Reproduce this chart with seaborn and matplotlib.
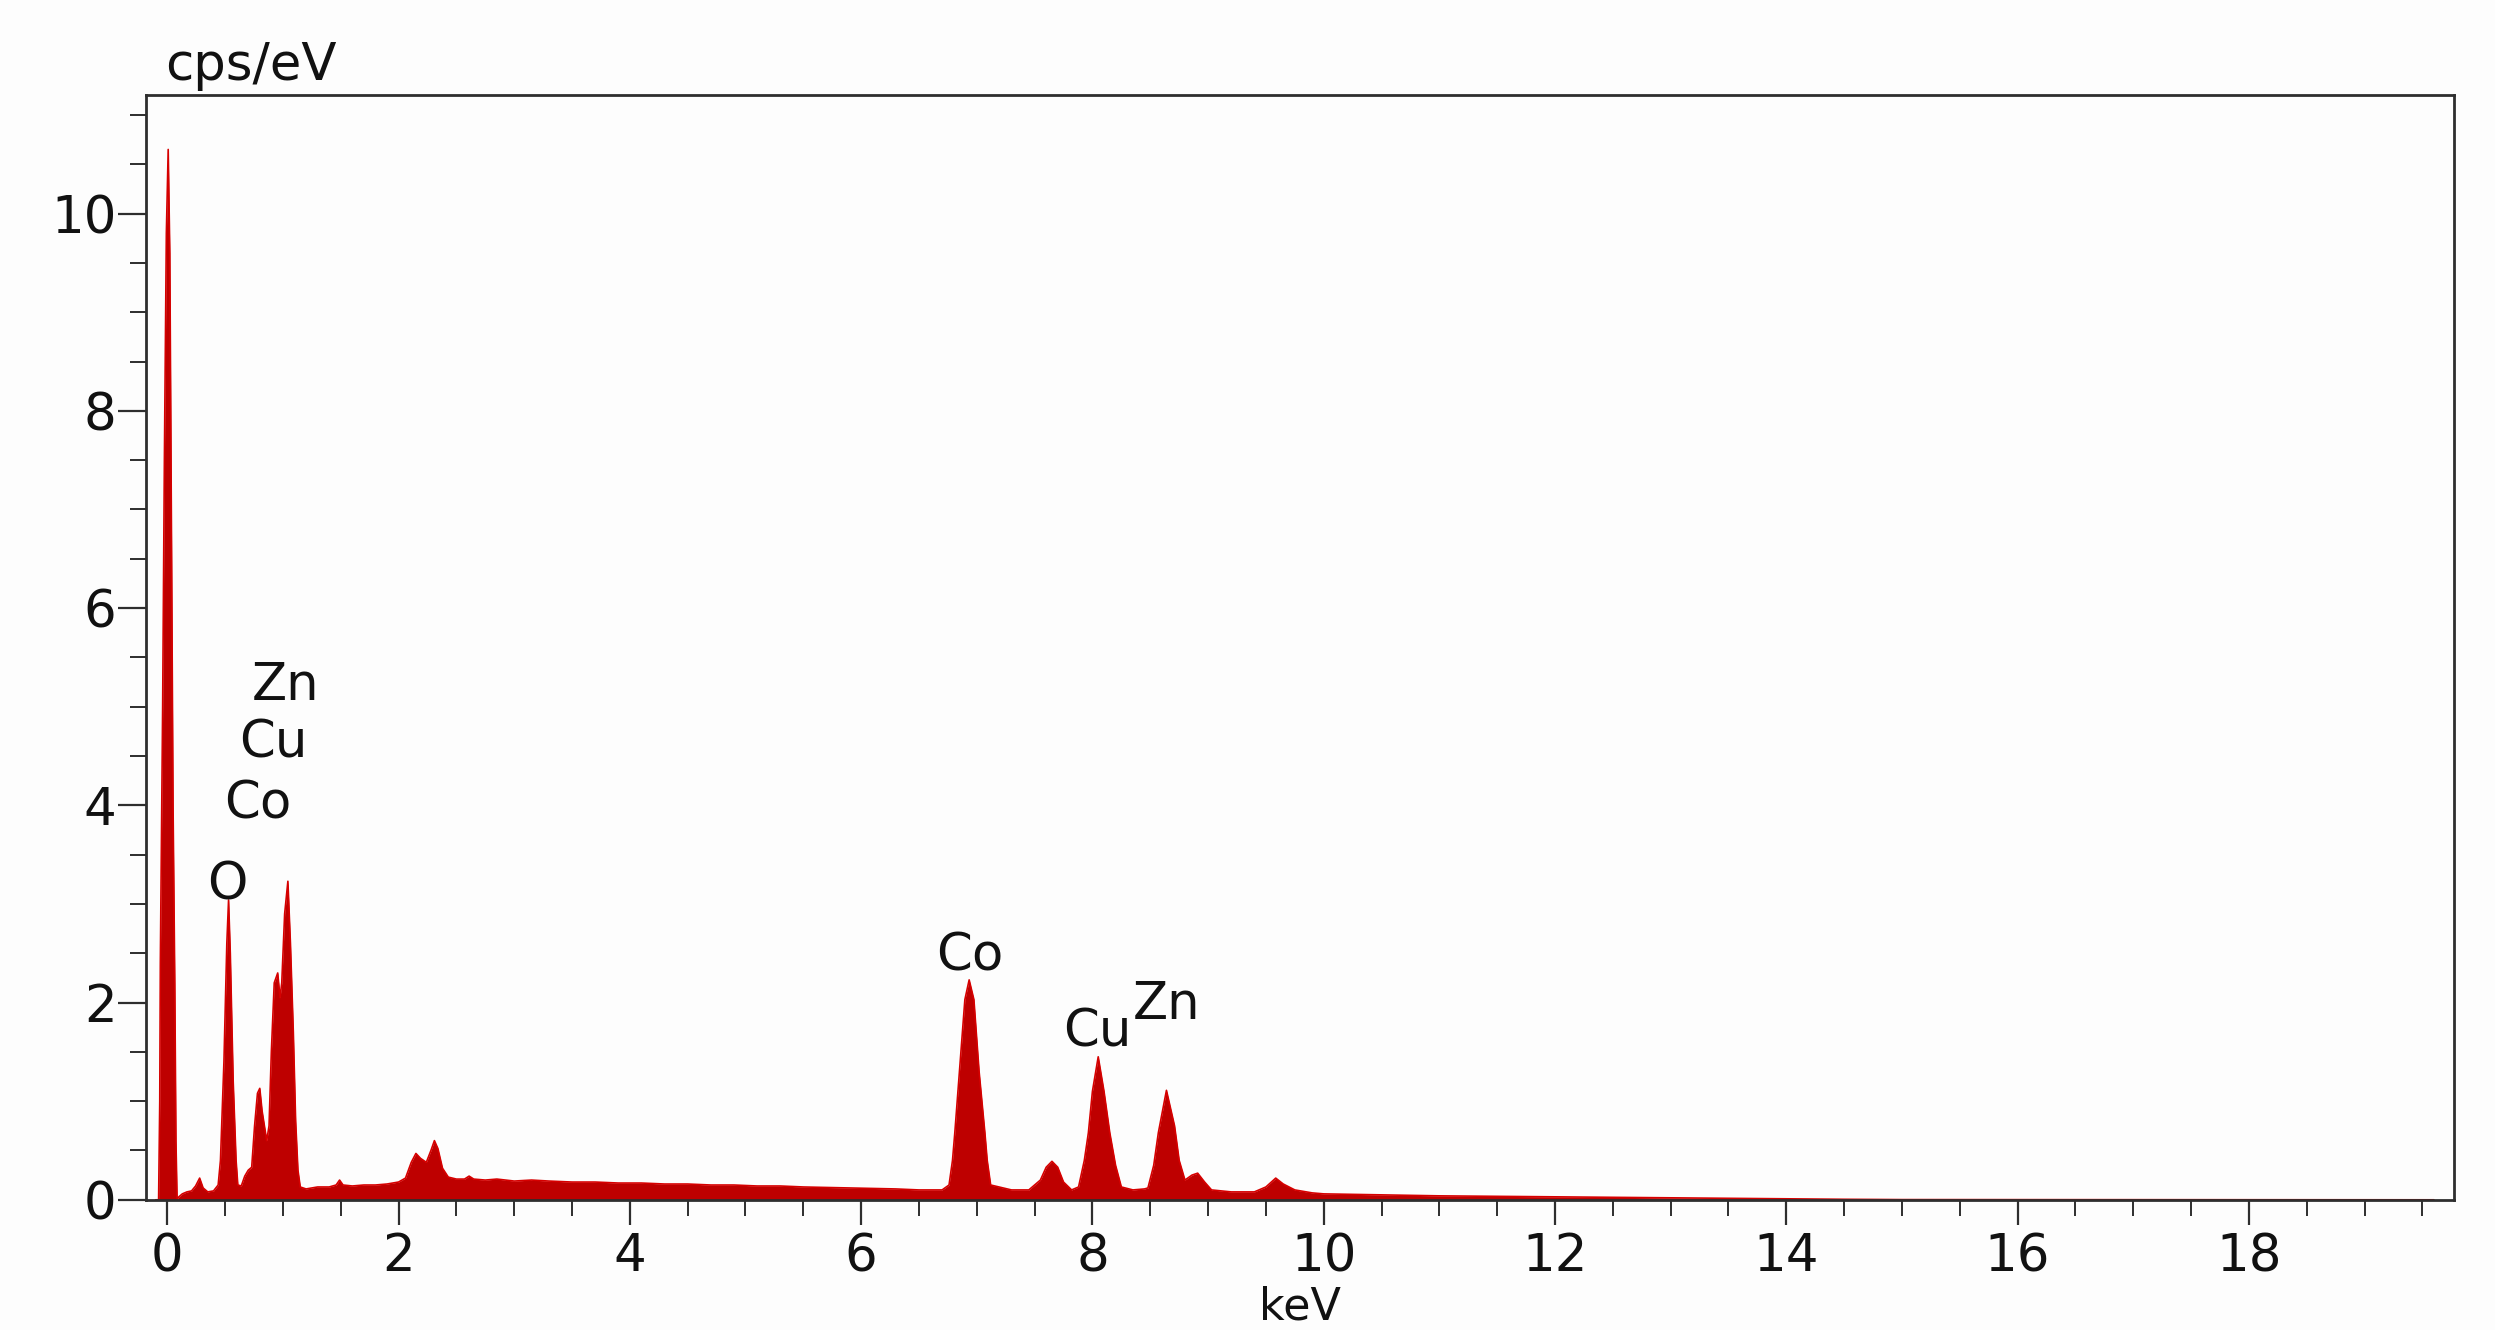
import matplotlib
matplotlib.use("Agg")
import matplotlib.pyplot as plt
import matplotlib.transforms as mtransforms
from matplotlib.ticker import MultipleLocator
import numpy as np
import pandas as pd
import seaborn as sns

# ---------------- data ----------------
energy_kev = [
    -0.10, -0.075, -0.065, -0.06, -0.04, -0.025, -0.008, 0.008, 0.022, 0.038,
    0.05, 0.065, 0.075, 0.085, 0.10, 0.13, 0.17, 0.21, 0.245, 0.28,
    0.31, 0.35, 0.40, 0.44, 0.46, 0.49, 0.515, 0.53, 0.545, 0.57,
    0.595, 0.61, 0.64, 0.67, 0.70, 0.73, 0.755, 0.78, 0.80, 0.82,
    0.86, 0.88, 0.90, 0.925, 0.955, 0.975, 0.99, 1.015, 1.043, 1.065,
    1.09, 1.11, 1.13, 1.15, 1.20, 1.30, 1.40, 1.46, 1.49, 1.52,
    1.60, 1.70, 1.80, 1.90, 2.00, 2.06, 2.11, 2.15, 2.19, 2.24,
    2.28, 2.31, 2.34, 2.38, 2.43, 2.50, 2.57, 2.61, 2.65, 2.75,
    2.85, 3.00, 3.15, 3.30, 3.50, 3.70, 3.90, 4.10, 4.30, 4.50,
    4.70, 4.90, 5.10, 5.30, 5.50, 5.70, 5.90, 6.10, 6.30, 6.50,
    6.70, 6.76, 6.79, 6.81, 6.85, 6.897, 6.934, 6.975, 7.02, 7.07,
    7.09, 7.12, 7.30, 7.45, 7.55, 7.60, 7.65, 7.70, 7.75, 7.82,
    7.88, 7.93, 7.965, 8.00, 8.05, 8.10, 8.15, 8.20, 8.25, 8.35,
    8.45, 8.48, 8.53, 8.57, 8.64, 8.71, 8.75, 8.80, 8.86, 8.91,
    8.97, 9.03, 9.20, 9.40, 9.50, 9.585, 9.65, 9.75, 9.90, 10.0,
    10.5, 11.0, 11.5, 12.0, 12.5, 13.0, 13.5, 14.0, 14.5, 15.0,
    19.6,
]
counts_cps_per_ev = [
    0.0, 0.0, 1.0, 2.4, 5.0, 7.5, 9.8, 10.65, 9.6, 6.5,
    4.0, 2.2, 0.6, 0.0, 0.03, 0.06, 0.08, 0.09, 0.14, 0.22,
    0.12, 0.08, 0.09, 0.15, 0.40, 1.40, 2.60, 3.04, 2.50, 1.20,
    0.40, 0.15, 0.14, 0.24, 0.30, 0.33, 0.75, 1.08, 1.13, 0.90,
    0.60, 0.75, 1.50, 2.20, 2.30, 2.05, 2.20, 2.90, 3.23, 2.60,
    1.70, 0.80, 0.30, 0.13, 0.11, 0.13, 0.13, 0.15, 0.20, 0.15,
    0.14, 0.15, 0.15, 0.16, 0.18, 0.22, 0.38, 0.47, 0.42, 0.38,
    0.50, 0.60, 0.52, 0.32, 0.23, 0.21, 0.21, 0.24, 0.21, 0.20,
    0.21, 0.19, 0.20, 0.19, 0.18, 0.18, 0.17, 0.17, 0.16, 0.16,
    0.15, 0.15, 0.14, 0.14, 0.13, 0.125, 0.12, 0.115, 0.11, 0.10,
    0.10, 0.15, 0.40, 0.68, 1.30, 2.03, 2.23, 2.03, 1.30, 0.68,
    0.40, 0.15, 0.10, 0.10, 0.20, 0.33, 0.39, 0.33, 0.18, 0.10,
    0.13, 0.40, 0.68, 1.10, 1.45, 1.10, 0.68, 0.35, 0.13, 0.10,
    0.11, 0.12, 0.35, 0.68, 1.11, 0.75, 0.40, 0.20, 0.25, 0.27,
    0.18, 0.10, 0.08, 0.08, 0.13, 0.22, 0.16, 0.10, 0.07, 0.06,
    0.05, 0.04, 0.035, 0.03, 0.025, 0.02, 0.015, 0.01, 0.005, 0.002,
    0.0,
]

peak_labels = ["O", "Co", "Cu", "Zn", "Co", "Cu", "Zn"]
peak_label_x = [0.52, 0.78, 0.92, 1.02, 6.935, 8.04, 8.64]
peak_label_y = [3.04, 3.87, 4.48, 5.07, 2.32, 1.55, 1.83]

x_ticks = [0, 2, 4, 6, 8, 10, 12, 14, 16, 18]
y_ticks = [0, 2, 4, 6, 8, 10]
x_label = "keV"
y_label = "cps/eV"

# ---------------- style ----------------
sns.set_theme(style="white")
plt.rcParams["font.family"] = ["DejaVu Sans"]
FS = 37
SPINE = "#2e2e2e"
FILL = "#BE0000"
EDGE = "#D60000"

fig = plt.figure(figsize=(24.95, 13.3), dpi=100, facecolor="#fdfdfd")
ax = fig.add_axes([0.0587, 0.0979, 0.9247, 0.8305])
ax.set_facecolor("#fdfdfd")

df = pd.DataFrame({"keV": energy_kev, "cps": counts_cps_per_ev})
ax.fill_between(df["keV"], 0, df["cps"], color=FILL, linewidth=0, zorder=2)
sns.lineplot(data=df, x="keV", y="cps", ax=ax, color=EDGE, linewidth=1.2,
             sort=False, estimator=None, zorder=3)

ax.set_xlim(-0.18, 19.77)
ax.set_ylim(0, 11.2)
ax.set_xticks(x_ticks)
ax.set_yticks(y_ticks)
ax.set_xticklabels([str(t) for t in x_ticks])
ax.set_yticklabels([str(t) for t in y_ticks])
ax.xaxis.set_minor_locator(MultipleLocator(0.5))
ax.yaxis.set_minor_locator(MultipleLocator(0.5))

ax.tick_params(axis="x", which="major", direction="out", length=18, width=1.6,
               color=SPINE, pad=5.5, labelsize=FS, labelcolor="#111111",
               bottom=True, top=False)
ax.tick_params(axis="x", which="minor", direction="out", length=11.5, width=1.4,
               color=SPINE, bottom=True, top=False)
ax.tick_params(axis="y", which="major", direction="out", length=20, width=1.6,
               color=SPINE, pad=1.5, labelsize=FS, labelcolor="#111111",
               left=True, right=False)
ax.tick_params(axis="y", which="minor", direction="out", length=11.5, width=1.4,
               color=SPINE, left=True, right=False)

for s in ax.spines.values():
    s.set_visible(True)
    s.set_color(SPINE)
    s.set_linewidth(2.0)
    s.set_zorder(5)

ax.set_xlabel("")
ax.set_ylabel("")

# axis titles placed like the reference
trans_top = mtransforms.blended_transform_factory(ax.transData, ax.transAxes)
ax.text(-0.02, 1 + 15 / 1104.5, y_label, transform=trans_top, ha="left",
        va="baseline", fontsize=FS, color="#111111")
ax.text(0.5, -120 / 1104.5, x_label, transform=ax.transAxes, ha="center",
        va="baseline", fontsize=32, color="#111111")

for lab, lx, ly in zip(peak_labels, peak_label_x, peak_label_y):
    ax.text(lx, ly, lab, ha="center", va="baseline", fontsize=FS,
            color="#111111", zorder=6)

fig.savefig("out.png", dpi=100, facecolor=fig.get_facecolor())
